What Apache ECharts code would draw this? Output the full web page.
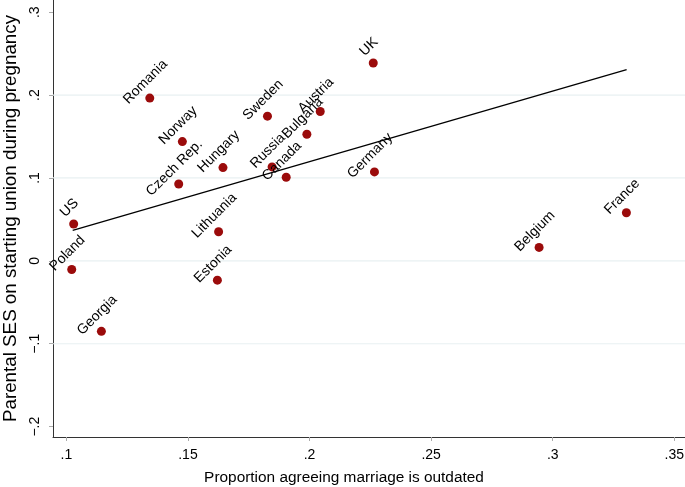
<!DOCTYPE html>
<html>
<head>
<meta charset="utf-8">
<script src="https://cdn.jsdelivr.net/npm/echarts@6/dist/echarts.min.js"></script>
<style>html,body{margin:0;padding:0;background:#fff}#c{width:685px;height:487px}</style>
</head>
<body>
<div id="c"></div>
<script>
const countries = ['Romania','Norway','Czech Rep.','Hungary','US','Lithuania','Poland','Estonia','Georgia','Sweden','Bulgaria','Austria','UK','Russia','Canada','Germany','France','Belgium'];
const propOutdated = [0.1343,0.1477,0.1462,0.1644,0.1030,0.1626,0.1022,0.1621,0.1144,0.1827,0.1989,0.2044,0.2262,0.1846,0.1904,0.2267,0.3303,0.2944];
const parentalSES = [0.1964,0.1439,0.0927,0.1125,0.0444,0.0351,-0.0104,-0.0233,-0.0850,0.1746,0.1528,0.1802,0.2387,0.1133,0.1008,0.1073,0.0580,0.0162];
const fitX = [0.1026, 0.3304];
const fitY = [0.0368, 0.2306];
const xTicks = [0.1,0.15,0.2,0.25,0.3,0.35];
const xTickLabels = ['.1','.15','.2','.25','.3','.35'];
const yTicks = [-0.2,-0.1,0,0.1,0.2,0.3];
const yTickLabels = ['\u2212.2','\u2212.1','0','.1','.2','.3'];
const yGrid = [-0.1,0,0.1,0.2];
const xRange = [0.0945, 0.3544];
const yRange = [-0.2125, 0.3147];

function lab(ticks, labels){
  return function(v){
    for (let i=0;i<ticks.length;i++){ if (Math.abs(ticks[i]-v)<1e-6) return labels[i]; }
    return '';
  };
}
const font = 'Liberation Sans, Arial, Helvetica, sans-serif';
const gridSeries = yGrid.map(v=>({
  type:'line', data:[[xRange[0],v],[xRange[1],v]], symbol:'none', silent:true,
  lineStyle:{color:'#e8f0f2',width:1.2}, z:1
}));
const chart = echarts.init(document.getElementById('c'));
chart.setOption({
  animation:false,
  backgroundColor:'#fff',
  textStyle:{fontFamily:font},
  grid:{left:53,right:0,top:0,bottom:50,containLabel:false,outerBoundsMode:'none'},
  xAxis:{
    type:'value', min:xRange[0], max:xRange[1],
    name:'Proportion agreeing marriage is outdated',
    nameLocation:'middle', nameGap:33,
    nameTextStyle:{fontSize:15.4,color:'#000',fontFamily:font,padding:[0,50,0,0]},
    axisLine:{show:true,onZero:false,lineStyle:{color:'#333',width:1}},
    axisTick:{show:true,length:4,customValues:xTicks,lineStyle:{color:'#aaa'}},
    axisLabel:{customValues:xTicks,formatter:lab(xTicks,xTickLabels),fontSize:14,color:'#000',margin:11,fontFamily:font},
    splitLine:{show:false}
  },
  yAxis:{
    type:'value', min:yRange[0], max:yRange[1],
    name:'Parental SES on starting union during pregnancy',
    nameLocation:'middle', nameGap:30, nameRotate:90,
    nameTextStyle:{fontSize:18.8,color:'#000',fontFamily:font},
    axisLine:{show:true,onZero:false,lineStyle:{color:'#333',width:1}},
    axisTick:{show:true,length:4,customValues:yTicks,lineStyle:{color:'#aaa'}},
    axisLabel:{customValues:yTicks,formatter:lab(yTicks,yTickLabels),fontSize:14,color:'#000',rotate:90,margin:11,fontFamily:font},
    splitLine:{show:false}
  },
  series: gridSeries.concat([
    {
      type:'line',
      data: fitX.map((x,i)=>[x,fitY[i]]),
      symbol:'none',
      lineStyle:{color:'#000',width:1.3},
      z:2
    },
    {
      type:'scatter',
      symbolSize:9,
      itemStyle:{color:'#9b0b0b',opacity:1},
      data: countries.map((n,i)=>({name:n,value:[propOutdated[i],parentalSES[i]]})),
      label:{show:true,formatter:'{b}',position:'top',distance:6,offset:[1,0],rotate:45,fontSize:14,color:'#000',fontFamily:font},
      z:3
    }
  ])
});
</script>
</body>
</html>
